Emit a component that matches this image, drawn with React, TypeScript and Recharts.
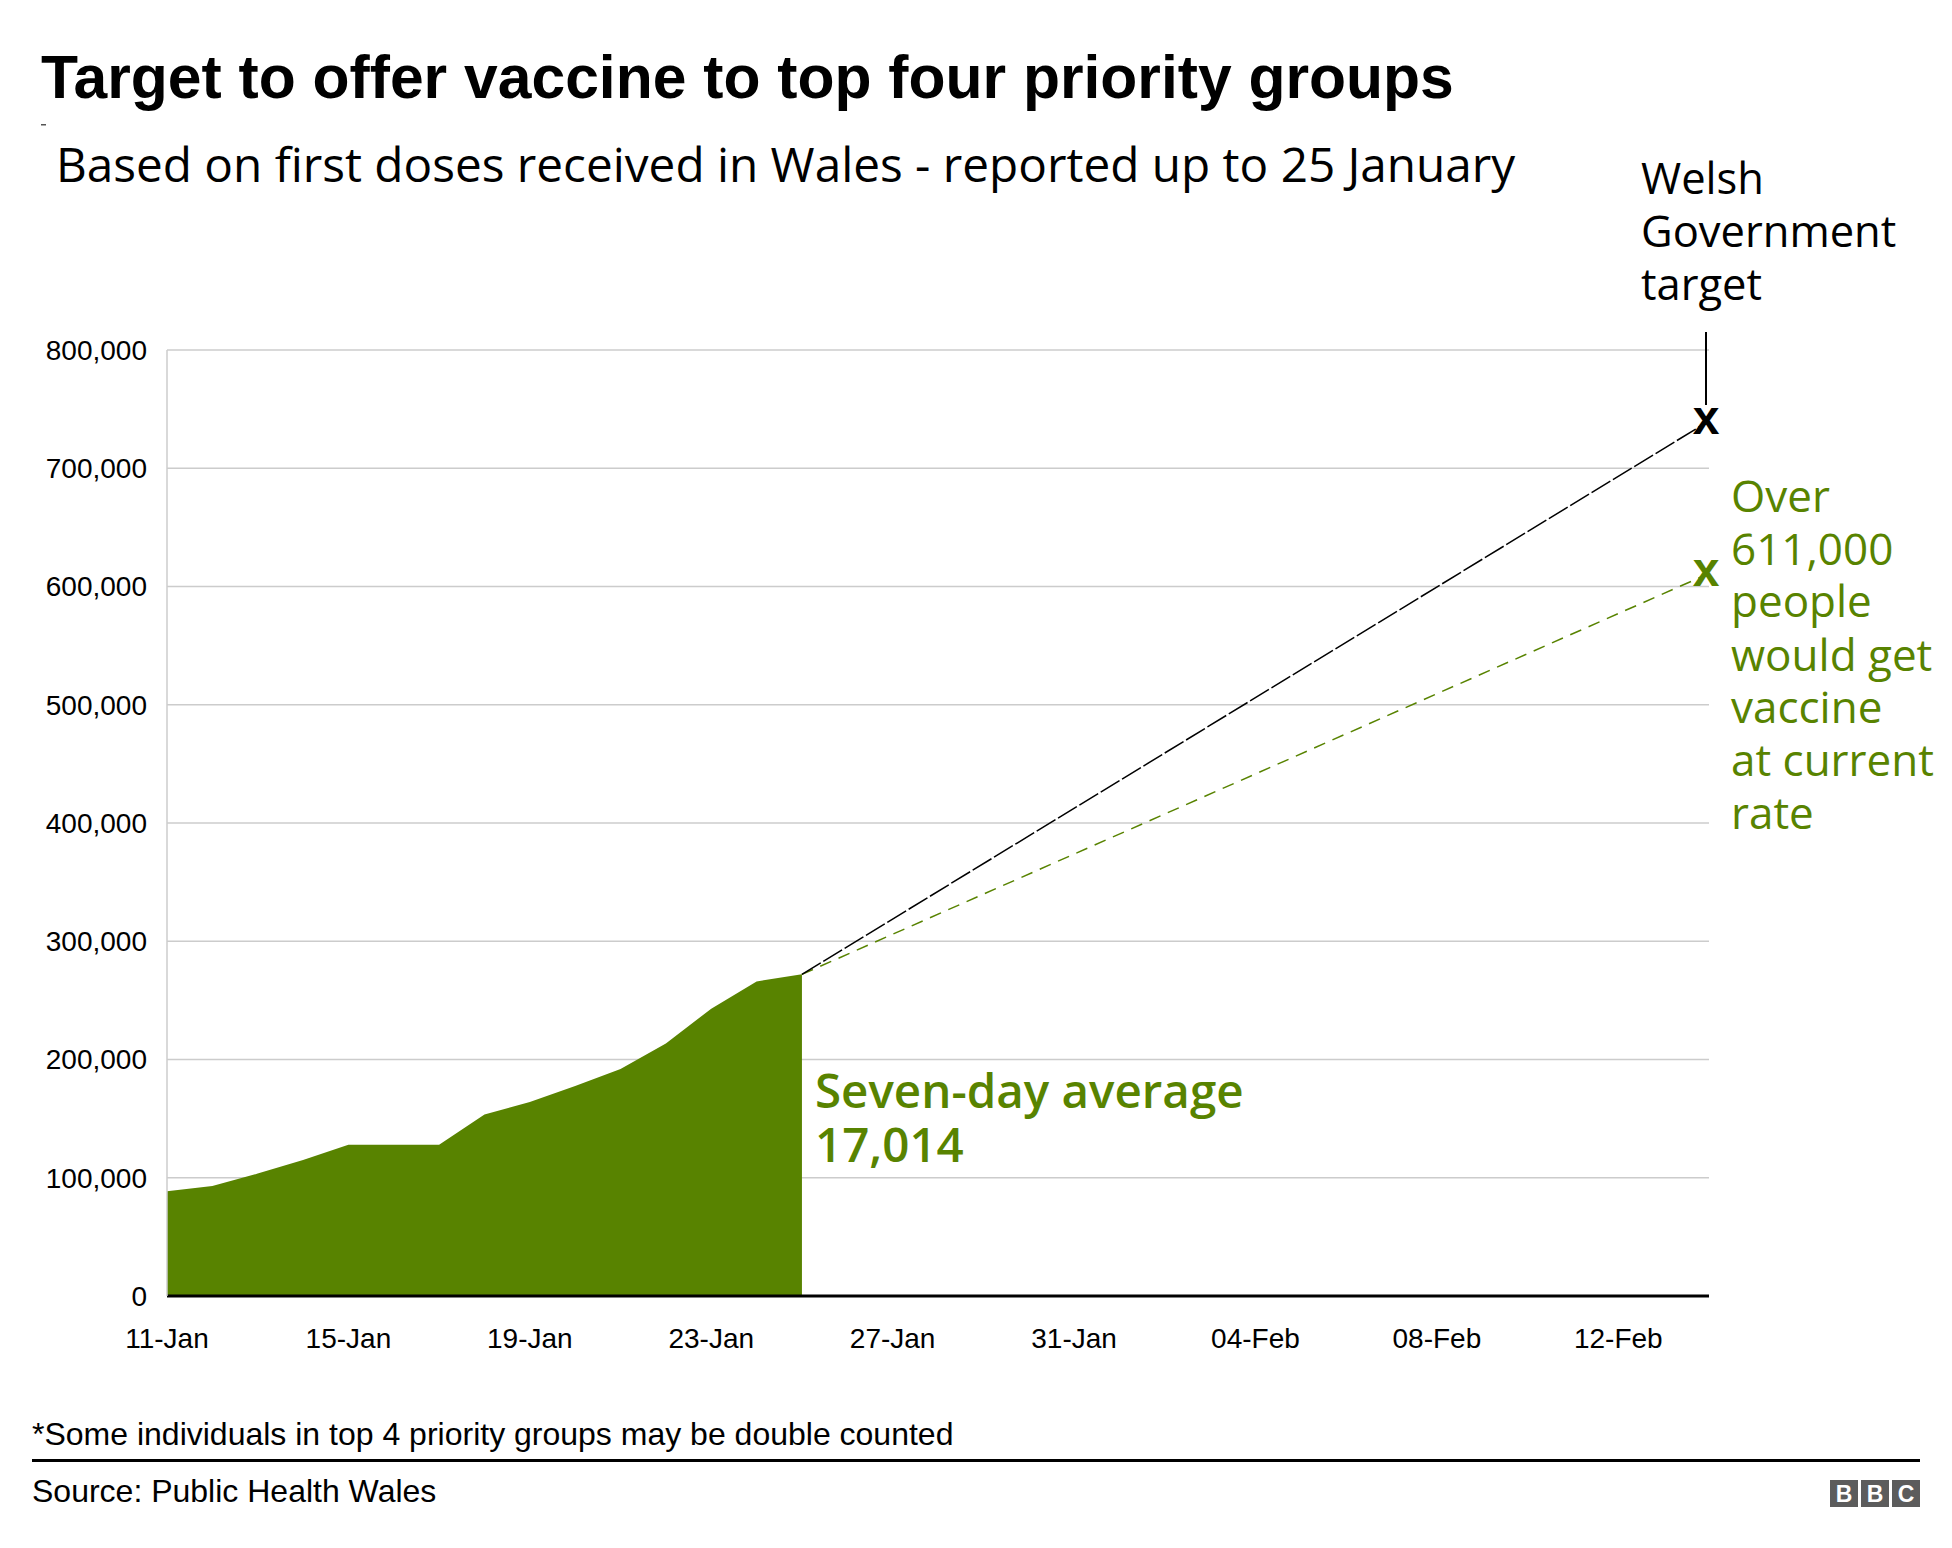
import React from 'react';
import { ComposedChart, Area, Line, XAxis, YAxis, CartesianGrid } from 'recharts';

const dates = [
  '11-Jan', '12-Jan', '13-Jan', '14-Jan', '15-Jan', '16-Jan', '17-Jan', '18-Jan', '19-Jan',
  '20-Jan', '21-Jan', '22-Jan', '23-Jan', '24-Jan', '25-Jan', '26-Jan', '27-Jan', '28-Jan',
  '29-Jan', '30-Jan', '31-Jan', '01-Feb', '02-Feb', '03-Feb', '04-Feb', '05-Feb', '06-Feb',
  '07-Feb', '08-Feb', '09-Feb', '10-Feb', '11-Feb', '12-Feb', '13-Feb', '14-Feb',
];
const firstDoses = [
  88500, 93000, 103500, 115000, 128000, 128000, 128000, 153500, 164000,
  177500, 192000, 213500, 243000, 266000, 272000,
];
const projectionDates = ['25-Jan', '14-Feb'];
const targetValues = [272000, 740000];
const currentRateValues = [272000, 611000];
const xTicks = ['11-Jan', '15-Jan', '19-Jan', '23-Jan', '27-Jan', '31-Jan', '04-Feb', '08-Feb', '12-Feb'];
const yTicks = [0, 100000, 200000, 300000, 400000, 500000, 600000, 700000, 800000];

const GREEN = '#588300';
const ARIAL = '"Liberation Sans", Arial, Helvetica, sans-serif';
const SANS = '"Open Sans", "Noto Sans", sans-serif';

const data = dates.map((d, i) => {
  const pi = projectionDates.indexOf(d);
  return {
    date: d,
    doses: i < firstDoses.length ? firstDoses[i] : null,
    target: pi >= 0 ? targetValues[pi] : null,
    current: pi >= 0 ? currentRateValues[pi] : null,
  };
});

const makeCross = (color: string) => (props: any) => {
  const { cx, cy, index, payload } = props;
  if (!payload || payload.date !== projectionDates[1] || cx == null || cy == null) {
    return <g key={`dot-${index}`} />;
  }
  return (
    <text
      key={`dot-${index}`}
      x={cx - 3}
      y={cy + 13}
      textAnchor="middle"
      fontFamily={ARIAL}
      fontWeight="bold"
      fontSize={48}
      fill={color}
    >
      x
    </text>
  );
};

const fmt = (v: number) => v.toLocaleString('en-US');

export default function App() {
  return (
    <div style={{ position: 'absolute', left: 0, top: 0, width: 1952, height: 1548, background: '#fff' }}>
      <ComposedChart
        width={1952}
        height={1548}
        data={data}
        margin={{ top: 350, right: 243, left: 0, bottom: 192 }}
      >
        <CartesianGrid vertical={false} stroke="#cccccc" strokeWidth={1.5} />
        <XAxis
          dataKey="date"
          ticks={xTicks}
          interval={0}
          height={60}
          tickLine={false}
          tickSize={6}
          tickMargin={26}
          axisLine={{ stroke: '#000', strokeWidth: 3 }}
          tick={{ fill: '#000', fontSize: 28, fontFamily: ARIAL }}
        />
        <YAxis
          width={167}
          domain={[0, 800000]}
          ticks={yTicks}
          tickFormatter={fmt}
          tickLine={false}
          tickSize={6}
          tickMargin={14}
          axisLine={{ stroke: '#cccccc', strokeWidth: 1.5 }}
          tick={{ fill: '#000', fontSize: 28, fontFamily: ARIAL }}
        />
        <Area
          type="linear"
          dataKey="doses"
          fill={GREEN}
          fillOpacity={1}
          stroke="none"
          isAnimationActive={false}
        />
        <Line
          type="linear"
          dataKey="current"
          stroke={GREEN}
          strokeWidth={1.5}
          strokeDasharray="12 8"
          connectNulls
          dot={makeCross(GREEN)}
          activeDot={false}
          isAnimationActive={false}
        />
        <Line
          type="linear"
          dataKey="target"
          stroke="#000"
          strokeWidth={1.5}
          strokeDasharray="22 3"
          connectNulls
          dot={makeCross('#000')}
          activeDot={false}
          isAnimationActive={false}
        />
      </ComposedChart>
      <svg
        width={1952}
        height={1548}
        style={{ position: 'absolute', left: 0, top: 0, pointerEvents: 'none' }}
      >
        <text x={41} y={98} fontFamily={ARIAL} fontWeight="bold" fontSize={60.6} fill="#000">
          Target to offer vaccine to top four priority groups
        </text>
        <rect x={41} y={124} width={5} height={1.5} fill="#555" />
        <text x={56} y={182} fontFamily={SANS} fontSize={47.7} fill="#000">
          Based on first doses received in Wales - reported up to 25 January
        </text>
        <g fontFamily={SANS} fontSize={43.5} fill="#000">
          <text x={1641} y={194}>Welsh</text>
          <text x={1641} y={247}>Government</text>
          <text x={1641} y={300}>target</text>
        </g>
        <line x1={1706} y1={332} x2={1706} y2={405} stroke="#000" strokeWidth={2} />
        <g fontFamily={SANS} fontSize={47.5} fontWeight={600} fill={GREEN}>
          <text x={815} y={1108}>Seven-day average</text>
          <text x={815} y={1162}>17,014</text>
        </g>
        <g fontFamily={SANS} fontSize={44} fill={GREEN}>
          <text x={1731} y={512}>Over</text>
          <text x={1731} y={565}>611,000</text>
          <text x={1731} y={617}>people</text>
          <text x={1731} y={671}>would get</text>
          <text x={1731} y={723}>vaccine</text>
          <text x={1731} y={776}>at current</text>
          <text x={1731} y={829}>rate</text>
        </g>
        <text x={32} y={1445} fontFamily={ARIAL} fontSize={32} fill="#000">
          *Some individuals in top 4 priority groups may be double counted
        </text>
        <rect x={32} y={1459} width={1888} height={3} fill="#000" />
        <text x={32} y={1502} fontFamily={ARIAL} fontSize={32} fill="#000">
          Source: Public Health Wales
        </text>
        <g>
          {['B', 'B', 'C'].map((ch, i) => (
            <g key={i}>
              <rect x={1830 + i * 31} y={1480} width={28} height={27} fill="#5c5c5c" />
              <text
                x={1844 + i * 31}
                y={1502}
                textAnchor="middle"
                fontFamily={ARIAL}
                fontWeight="bold"
                fontSize={23}
                fill="#fff"
              >
                {ch}
              </text>
            </g>
          ))}
        </g>
      </svg>
    </div>
  );
}
